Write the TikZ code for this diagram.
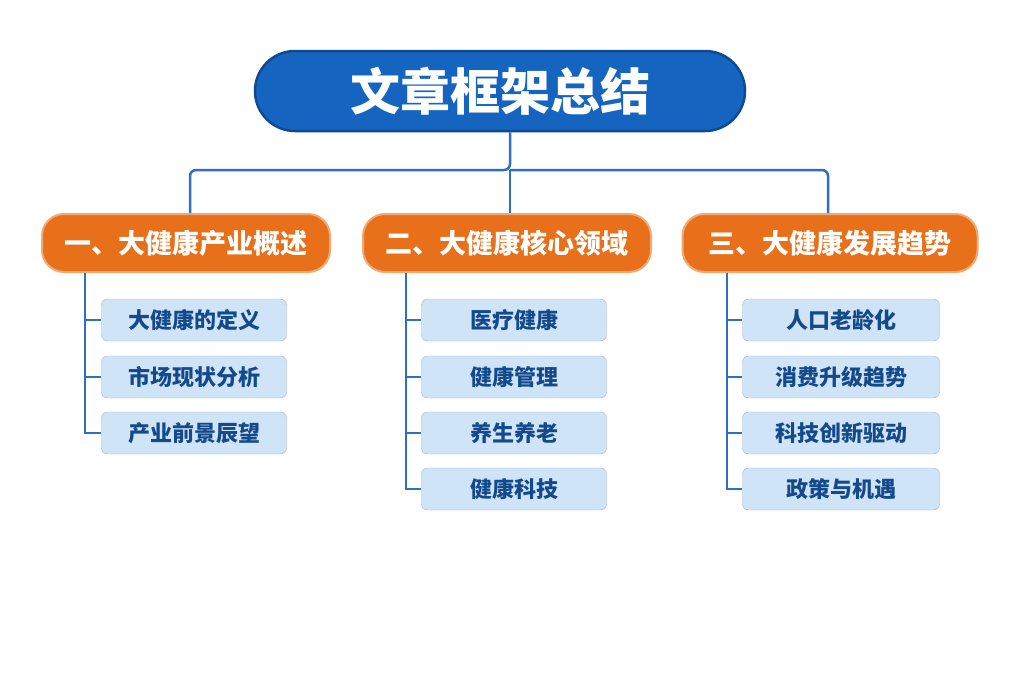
\documentclass[tikz,border=0pt]{standalone}
\usepackage{fontspec}
\newfontfamily\cjk{Noto Sans CJK SC}
\usetikzlibrary{positioning}
\definecolor{titleblue}{HTML}{1565C0}
\definecolor{darkblue}{HTML}{0D4A94}
\definecolor{linkblue}{HTML}{2F6FC0}
\definecolor{secorange}{HTML}{E8701A}
\definecolor{itemfill}{HTML}{CFE4F7}
\definecolor{itemtext}{HTML}{144A8C}
\tikzset{
  title/.style={rectangle, rounded corners=40pt, draw=darkblue, line width=2.5pt, fill=titleblue, text=white, minimum width=490pt, minimum height=80pt, font=\cjk\bfseries\fontsize{50}{54}\selectfont},
  section/.style={rectangle, rounded corners=22pt, draw=secorange!60!white, line width=2pt, fill=secorange, text=white, minimum height=58pt, font=\cjk\bfseries\fontsize{27}{30}\selectfont},
  item/.style={rectangle, rounded corners=6pt, draw=itemfill!80!black, fill=itemfill, text=itemtext, minimum height=42pt, font=\cjk\bfseries\fontsize{22}{25}\selectfont},
  link/.style={draw=linkblue, line width=2.5pt}
}
\begin{document}
\begin{tikzpicture}[x=1pt, y=-1pt]
  \fill[white] (0,0) rectangle (1024,683);
  \useasboundingbox (0,0) rectangle (1024,683);
  \node (Title) [title] at (500,91) {文章框架总结};
  \node (SecA) [section, minimum width=288pt] at (186,243) {一、大健康产业概述};
  \node (SecB) [section, minimum width=288pt] at (507,243) {二、大健康核心领域};
  \node (SecC) [section, minimum width=295pt] at (830,243) {三、大健康发展趋势};
  % items
  \node (A1) [item, minimum width=185pt] at (194,320) {大健康的定义};
  \node (A2) [item, minimum width=185pt] at (194,377) {市场现状分析};
  \node (A3) [item, minimum width=185pt] at (194,433) {产业前景辰望};
  \node (B1) [item, minimum width=185pt] at (514,320) {医疗健康};
  \node (B2) [item, minimum width=185pt] at (514,377) {健康管理};
  \node (B3) [item, minimum width=185pt] at (514,433) {养生养老};
  \node (B4) [item, minimum width=185pt] at (514,489) {健康科技};
  \node (C1) [item, minimum width=197pt] at (841,320) {人口老龄化};
  \node (C2) [item, minimum width=197pt] at (841,377) {消费升级趋势};
  \node (C3) [item, minimum width=197pt] at (841,433) {科技创新驱动};
  \node (C4) [item, minimum width=197pt] at (841,489) {政策与机遇};
  \coordinate (Hub) at (510,170);
  \draw [link, rounded corners=6pt] (Title.south -| Hub) -- (Hub) -| (SecA.north -| 190,0);
  \draw [link, rounded corners=6pt] (Hub) -| (SecC.north -| 828,0);
  \draw [link] (Hub) -- (SecB.north -| Hub);
  \draw [link] (SecA.south -| 85,0) |- (A3.west);
  \draw [link] (85,0 |- A1.west) -- (A1.west);
  \draw [link] (85,0 |- A2.west) -- (A2.west);
  \draw [link] (SecB.south -| 406,0) |- (B4.west);
  \foreach \n in {B1,B2,B3} \draw [link] (406,0 |- \n.west) -- (\n.west);
  \draw [link] (SecC.south -| 727,0) |- (C4.west);
  \foreach \n in {C1,C2,C3} \draw [link] (727,0 |- \n.west) -- (\n.west);
\end{tikzpicture}
\end{document}
